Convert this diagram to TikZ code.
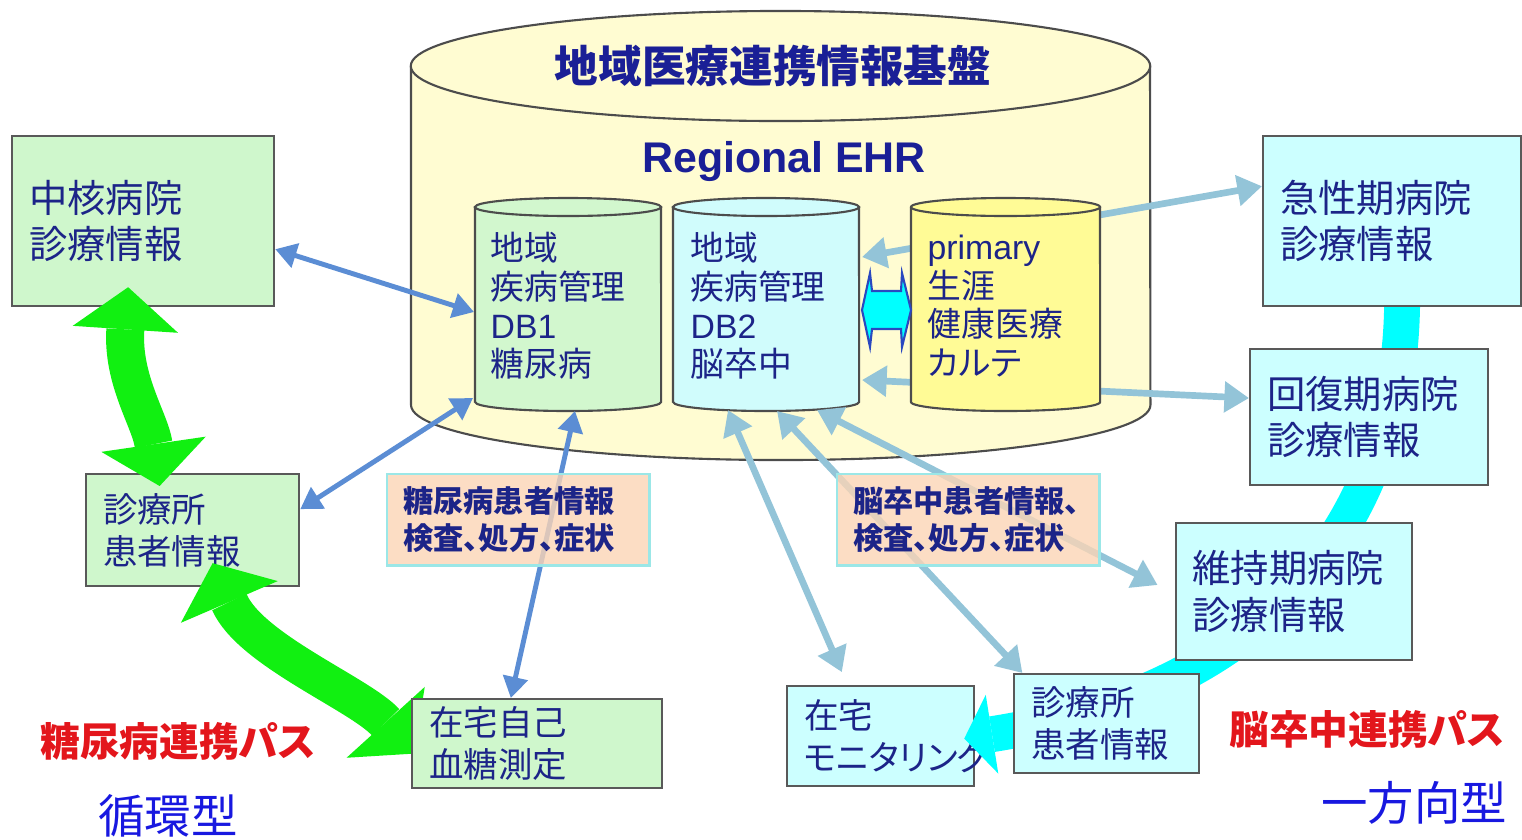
\documentclass[tikz,border=0pt]{standalone}
\usepackage{fontspec}
\usepackage{tikz}
\usetikzlibrary{arrows.meta,calc}
\newfontfamily\jp{Noto Sans CJK JP}[RawFeature=+palt]
\newfontfamily\lat{Liberation Sans}
\definecolor{navy}{HTML}{1C2488}
\definecolor{titleblue}{HTML}{1A1F96}
\definecolor{pathred}{HTML}{E3161C}
\definecolor{typeblue}{HTML}{1818E0}
\definecolor{ehryellow}{HTML}{FFFCD2}
\definecolor{dbgreen}{HTML}{D2F7CE}
\definecolor{dbcyan}{HTML}{D0FCFC}
\definecolor{primyellow}{HTML}{FFFB96}
\definecolor{boxgreen}{HTML}{CFF7CC}
\definecolor{boxcyan}{HTML}{CCFFFF}
\definecolor{infoorange}{HTML}{FBD5B5}
\definecolor{infoedge}{HTML}{9BE7E7}
\definecolor{linkblue}{HTML}{5B8DD4}
\definecolor{paleblue}{HTML}{93C4D8}
\definecolor{pathgreen}{HTML}{11F011}
\definecolor{pathcyan}{HTML}{00FFFF}
\definecolor{dblblue}{HTML}{2A48C0}
\tikzset{
  cylline/.style={draw=black!70,line width=0.6pt},
  box/.style={draw=black!65,line width=0.6pt,inner xsep=0.17cm,inner ysep=0pt,align=left,anchor=north west,text=navy},
  bigtext/.style={font=\jp\fontsize{10.9pt}{13.2pt}\selectfont},
  smalltext/.style={font=\jp\fontsize{9.8pt}{11.9pt}\selectfont},
  dbtext/.style={font=\jp\fontsize{9.6pt}{11pt}\selectfont,text=navy,align=left,anchor=west,inner sep=0pt},
  infobox/.style={draw=infoedge,line width=0.7pt,fill=infoorange,fill opacity=0.8,text opacity=1,text=navy,
    font=\jp\bfseries\fontsize{8.6pt}{10.6pt}\selectfont,inner xsep=0.16cm,inner ysep=0pt,align=left,anchor=north west},
  link/.style={draw=linkblue,line width=1.4pt,>={Triangle[length=6pt,width=7pt]},<->},
  palelink/.style={draw=paleblue,line width=1.9pt,>={Triangle[length=7pt,width=8.5pt]},<->},
  fatgreen/.style={draw=pathgreen,line width=10.8pt,>={Triangle[length=12pt 0,width=30pt 0,line width=0pt]},<->},
  fatcyan/.style={draw=pathcyan,line width=10.2pt,>={Triangle[length=8pt 0,width=22.7pt 0,line width=0pt]},->},
  pathlabel/.style={text=pathred,font=\jp\bfseries\fontsize{11.3pt}{13pt}\selectfont,inner sep=0pt},
  typelabel/.style={text=typeblue,font=\jp\fontsize{13.2pt}{15pt}\selectfont,inner sep=0pt}
}
\begin{document}
\begin{tikzpicture}[x=0.01cm,y=-0.01cm]
  \useasboundingbox (0,0) rectangle (1522,839);
  \def\ehrrx{3.695cm}%大円柱の横半径
  \def\ehrry{0.55cm}%大円柱の縦半径
  % 地域医療連携情報基盤
  \fill[ehryellow] (411,66) -- (411,405) arc[start angle=180,end angle=360,x radius=\ehrrx,y radius=\ehrry] -- (1150,66) -- cycle;
  \draw[cylline] (411,66) -- (411,405) arc[start angle=180,end angle=360,x radius=\ehrrx,y radius=\ehrry] -- (1150,66);
  \draw[cylline,fill=ehryellow] (780.5,66) ellipse [x radius=\ehrrx,y radius=\ehrry];
  \node[font=\jp\bfseries\fontsize{12.4pt}{14pt}\selectfont,text=titleblue] (title) at (773,66) {地域医療連携情報基盤};
  \node[font=\lat\bfseries\fontsize{12.2pt}{14pt}\selectfont,text=titleblue,anchor=base] (ehr) at (784,172) {Regional EHR};
  % DB1, DB2
  \foreach \cx/\col in {568/dbgreen,766/dbcyan}{
    \fill[\col] (\cx-93,207) -- (\cx-93,402) arc[start angle=180,end angle=360,x radius=0.93cm,y radius=0.09cm] -- (\cx+93,207) -- cycle;
    \draw[cylline] (\cx-93,207) -- (\cx-93,402) arc[start angle=180,end angle=360,x radius=0.93cm,y radius=0.09cm] -- (\cx+93,207);
    \draw[cylline,fill=\col] (\cx,207) ellipse [x radius=0.93cm,y radius=0.09cm];
  }
  \coordinate (db1l) at (474,312);%DB1の左側
  \coordinate (db1ll) at (473,398);
  \coordinate (db1b) at (575,411);%DB1の底
  \coordinate (db2r1) at (862,257);%DB2の右側
  \coordinate (db2r2) at (862,380);
  \coordinate (db2a) at (728,410);%DB2の底
  \coordinate (db2b) at (777,411);
  \coordinate (db2c) at (817,410);
  % 病院
  \node[box,bigtext,fill=boxcyan,minimum width=2.58cm,minimum height=1.70cm,text width=2.24cm] (kyusei) at (1262,135) {急性期病院\\診療情報};
  \node[box,bigtext,fill=boxcyan,minimum width=2.38cm,minimum height=1.36cm,text width=2.04cm] (kaifuku) at (1249,348) {回復期病院\\診療情報};
  \draw[palelink] (db2r1) -- (kyusei.165);
  \draw[palelink] (db2r2) -- (kaifuku.171);
  % primary
  \fill[primyellow] (911,207) -- (911,402) arc[start angle=180,end angle=360,x radius=0.945cm,y radius=0.09cm] -- (1100,207) -- cycle;
  \draw[cylline] (911,207) -- (911,402) arc[start angle=180,end angle=360,x radius=0.945cm,y radius=0.09cm] -- (1100,207);
  \draw[cylline,fill=primyellow] (1005.5,207) ellipse [x radius=0.945cm,y radius=0.09cm];
  \draw[draw=dblblue,line width=0.6pt,fill=pathcyan] (862,310) -- (870,273) -- (872,291) -- (901,291) -- (902,273) -- (911,310)
    -- (902,347) -- (901,329) -- (872,329) -- (870,347) -- cycle;%DB2とprimaryの間
  \node[dbtext] (db1) at (490,306) {地域\\疾病管理\\{\lat DB1}\\糖尿病};
  \node[dbtext] (db2) at (690,306) {地域\\疾病管理\\{\lat DB2}\\脳卒中};
  \node[dbtext] (prim) at (927,306) {{\lat primary}\\生涯\\健康医療\\カルテ};
  % 左側
  \node[box,bigtext,fill=boxgreen,minimum width=2.62cm,minimum height=1.70cm,text width=2.28cm] (chukaku) at (11,135) {中核病院\\診療情報};
  \node[box,smalltext,fill=boxgreen,minimum width=2.13cm,minimum height=1.12cm,text width=1.79cm] (shinryoL) at (85,473) {診療所\\患者情報};
  \node[box,smalltext,fill=boxcyan,minimum width=1.87cm,minimum height=1.00cm,text width=1.53cm] (zaitakuM) at (786,685) {在宅\\モニタリング};
  \node[box,bigtext,fill=boxcyan,minimum width=2.365cm,minimum height=1.37cm,text width=2.025cm] (iji) at (1174.5,522) {維持期病院\\診療情報};
  \node[box,smalltext,fill=boxcyan,minimum width=1.85cm,minimum height=0.99cm,text width=1.51cm] (shinryoR) at (1013,673) {診療所\\患者情報};
  \node[box,smalltext,fill=boxgreen,minimum width=2.50cm,minimum height=0.89cm,text width=2.16cm] (zaitakujiko) at (411,698) {在宅自己\\血糖測定};
  \draw[link] (chukaku.-12) -- (db1l);
  \draw[link] (db1ll) -- (shinryoL.11);
  \draw[link] (db1b) -- (zaitakujiko.120);
  \draw[palelink,shorten >=0.14cm] (db2a) -- (zaitakuM.123);
  \draw[palelink] (db2b) -- (shinryoR.149);
  \draw[palelink,shorten >=0.19cm] (db2c) -- (iji.181);
  \node[infobox,minimum width=2.62cm,minimum height=0.91cm,text width=2.30cm] (dminfo) at (386,473) {糖尿病患者情報\\検査、処方、症状};
  \node[infobox,minimum width=2.62cm,minimum height=0.91cm,text width=2.30cm] (stinfo) at (836,473) {脳卒中患者情報、\\検査、処方、症状};
  % 糖尿病連携パス
  \draw[fatgreen] ($(chukaku.south)+(-15,-20)$) .. controls (122,380) and (150,420) .. ($(shinryoL.north)+(-33,13)$);
  \draw[fatgreen] ($(shinryoL.south)+(20,-24)$) .. controls (250,650) and (360,694) .. ($(zaitakujiko.west)+(3,10)$);
  \node[box,smalltext,fill=boxgreen,minimum width=2.50cm,minimum height=0.89cm,text width=2.16cm] at (zaitakujiko.north west) {在宅自己\\血糖測定};
  % 脳卒中連携パス
  \draw[fatcyan] ($(kyusei.south)+(10,-5)$) .. controls (1400,520) and (1270,690) .. ($(zaitakuM.east)+(-11,2.5)$);
  \node[box,bigtext,fill=boxcyan,minimum width=2.58cm,minimum height=1.70cm,text width=2.24cm] at (kyusei.north west) {急性期病院\\診療情報};
  \node[box,bigtext,fill=boxcyan,minimum width=2.38cm,minimum height=1.36cm,text width=2.04cm] at (kaifuku.north west) {回復期病院\\診療情報};
  \node[box,bigtext,fill=boxcyan,minimum width=2.365cm,minimum height=1.37cm,text width=2.025cm] at (iji.north west) {維持期病院\\診療情報};
  \node[box,smalltext,fill=boxcyan,minimum width=1.85cm,minimum height=0.99cm,text width=1.51cm] at (shinryoR.north west) {診療所\\患者情報};
  % ラベル
  \node[pathlabel] (dmpath) at (178,741) {糖尿病連携パス};
  \node[typelabel] (loop) at (168,816) {循環型};
  \node[pathlabel] (stpath) at (1367,729) {脳卒中連携パス};
  \node[typelabel] (oneway) at (1414,803) {一方向型};
\end{tikzpicture}
\end{document}
